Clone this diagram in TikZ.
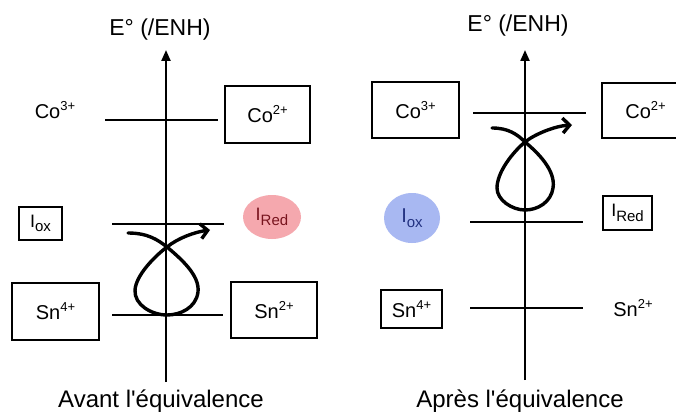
\documentclass[tikz,border=0pt]{standalone}
\usepackage{fontspec}
\setmainfont{Liberation Sans}
\usetikzlibrary{arrows.meta,shapes.geometric}

\definecolor{rose}{RGB}{245,168,174}
\definecolor{roseTxt}{RGB}{120,20,30}
\definecolor{bleu}{RGB}{168,184,242}
\definecolor{bleuTxt}{RGB}{35,50,130}

\newcommand\ionsup[1]{\raisebox{0.75ex}{\fontsize{13}{14}\selectfont #1}}
\newcommand\ionsub[1]{\raisebox{-0.45ex}{\fontsize{15}{16}\selectfont #1}}

\begin{document}
\begin{tikzpicture}[
  x=1pt, y=-1pt,
  axe/.style={line width=2.2pt, -{Triangle[length=11pt,width=9pt]}},
  niveau/.style={line width=1.6pt},
  boite/.style={draw, line width=1.6pt, inner sep=0pt, font=\fontsize{20}{22}\selectfont},
  espece/.style={inner sep=0pt, font=\fontsize{20}{22}\selectfont},
  tache/.style={ellipse, inner sep=0pt, font=\fontsize{20}{22}\selectfont},
  titre/.style={font=\fontsize{23}{26}\selectfont},
  legende/.style={font=\fontsize{24}{26}\selectfont},
  boucle/.style={line width=3.4pt, line cap=round, line join=round, -{Straight Barb[length=7pt,width=15pt]}}
]
\clip (0,0) rectangle (676,414);
\fill[white] (0,0) rectangle (676,414);

% avant l'equivalence
\coordinate (a0) at (166,382);
\coordinate (a1) at (166,50);
\draw[axe] (a0) -- (a1);
\node[titre] (ta) at (160,30) {E° (/ENH)};
\node[legende] (ca) at (161,401) {Avant l\textquotesingle équivalence};

\draw[niveau] (105,120) -- (218,120);
\draw[niveau] (112,224) -- (224,224);
\draw[niveau] (112,315) -- (223,315);

\node[espece] (co3a) at (55,110) {Co\ionsup{3+}};
\node[boite, minimum width=85pt, minimum height=57pt] (co2a) at (267.5,114.5) {Co\ionsup{2+}};
\node[boite, minimum width=43pt, minimum height=33pt, font=\fontsize{18}{20}\selectfont] (ioxa) at (40.5,223.5) {I\ionsub{ox}};
\node[tache, fill=rose, text=roseTxt, minimum width=58pt, minimum height=44pt, font=\fontsize{18}{20}\selectfont] (ireda) at (272,217) {I\ionsub{Red}};
\node[boite, minimum width=87pt, minimum height=57pt] (sn4a) at (55.5,311.5) {Sn\ionsup{4+}};
\node[boite, minimum width=86pt, minimum height=56pt] (sn2a) at (274,310) {Sn\ionsup{2+}};

\draw[boucle] (128,233) .. controls (148,233) and (158,240) .. (167,247)
  .. controls (180,258) and (200,275) .. (198,292)
  .. controls (196,308) and (180,315) .. (167,315)
  .. controls (152,315) and (134,305) .. (135,290)
  .. controls (136,275) and (155,256) .. (167,247)
  .. controls (178,238) and (195,232) .. (210,230);

% apres l'equivalence
\coordinate (b0) at (525,380);
\coordinate (b1) at (525,50);
\draw[axe] (b0) -- (b1);
\node[titre] (tb) at (518,26) {E° (/ENH)};
\node[legende] (cb) at (520,401) {Après l\textquotesingle équivalence};

\draw[niveau] (473,113) -- (586,113);
\draw[niveau] (470,222) -- (583,222);
\draw[niveau] (470,308) -- (583,308);

\node[boite, minimum width=87pt, minimum height=56pt] (co3b) at (415.5,110) {Co\ionsup{3+}};
\node[boite, minimum width=87pt, minimum height=55pt] (co2b) at (645.5,110.5) {Co\ionsup{2+}};
\node[tache, fill=bleu, text=bleuTxt, minimum width=56pt, minimum height=50pt] (ioxb) at (412,218) {I\ionsub{ox}};
\node[boite, minimum width=49pt, minimum height=34pt, font=\fontsize{18}{20}\selectfont] (iredb) at (627.5,213) {I\ionsub{Red}};
\node[boite, minimum width=61pt, minimum height=38pt] (sn4b) at (411.5,309) {Sn\ionsup{4+}};
\node[espece] (sn2b) at (633,308) {Sn\ionsup{2+}};

\draw[boucle] (492,128) .. controls (508,128) and (517,134) .. (525,142)
  .. controls (537,152) and (556,170) .. (553,188)
  .. controls (551,202) and (538,210) .. (525,210)
  .. controls (512,210) and (497,200) .. (497,188)
  .. controls (497,172) and (513,152) .. (525,142)
  .. controls (535,134) and (555,126) .. (572,125);
\end{tikzpicture}
\end{document}
